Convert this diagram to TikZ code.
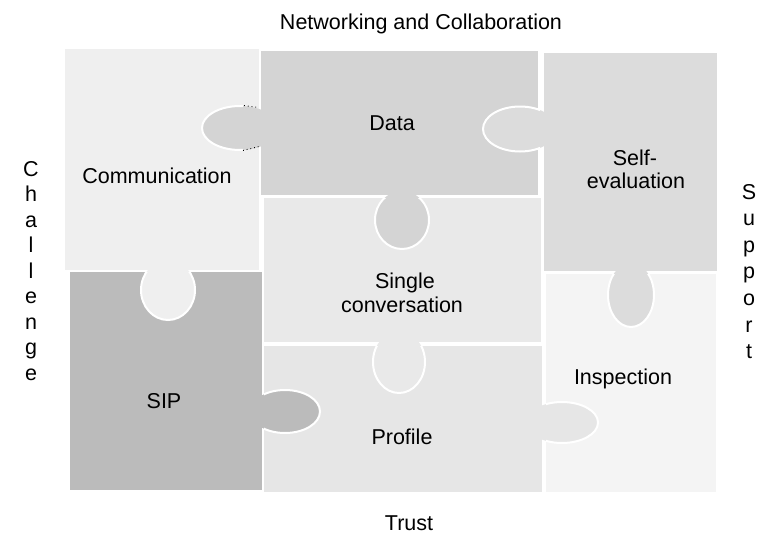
\documentclass[tikz,border=0pt]{standalone}
\usepackage{fontspec}
\setmainfont{Liberation Sans}
\definecolor{commc}{HTML}{EFEFEF}
\definecolor{datac}{HTML}{D4D4D4}
\definecolor{selfc}{HTML}{DCDCDC}
\definecolor{singc}{HTML}{E9E9E9}
\definecolor{sipc}{HTML}{BBBBBB}
\definecolor{profc}{HTML}{E6E6E6}
\definecolor{inspc}{HTML}{F4F4F4}
\tikzset{
  tabline/.style={draw=white, line width=2pt},
  lbl/.style={font=\fontsize{21.5}{25}\selectfont, inner sep=0pt, anchor=base, text=black},
  dotmark/.style={draw=black, dash pattern=on 0.8pt off 3pt, line width=0.9pt}
}
\begin{document}
\begin{tikzpicture}[x=1pt,y=-1pt]
\useasboundingbox (0,0) rectangle (779,554);
\fill[white] (0,0) rectangle (779,554);
% pieces
\fill[commc] (65,49) rectangle (259,270);
\fill[datac] (261,51) rectangle (538,195);
\fill[selfc] (544,53) rectangle (717,271);
\fill[singc] (264,198) rectangle (541,342);
\fill[sipc]  (70,272) rectangle (262,490);
\fill[profc] (264,346) rectangle (542,492);
\fill[inspc] (546,274) rectangle (716,492);
% tab: Data -> Communication
\fill[datac] (240,128) ellipse [x radius=38pt, y radius=22pt];
\begin{scope}\clip (190,90) rectangle (243,170);
\draw[tabline] (240,128) ellipse [x radius=38pt, y radius=22pt];\end{scope}
\draw[dotmark] (244,105.5) -- (259,107.5);
\draw[dotmark] (243,150.5) -- (259,146.5);
% tab: Self-evaluation -> Data
\fill[selfc] (520,129) ellipse [x radius=37pt, y radius=22.5pt];
\begin{scope}\clip (470,90) rectangle (540,170);
\draw[tabline] (520,129) ellipse [x radius=37pt, y radius=22.5pt];\end{scope}
% tab: Data -> Single conversation
\fill[datac] (402,220) ellipse [x radius=27pt, y radius=29pt];
\begin{scope}\clip (360,198) rectangle (440,260);
\draw[tabline] (402,220) ellipse [x radius=27pt, y radius=29pt];\end{scope}
% tab: Communication -> SIP
\fill[commc] (168,290) ellipse [x radius=27pt, y radius=30pt];
\begin{scope}\clip (130,272) rectangle (210,330);
\draw[tabline] (168,290) ellipse [x radius=27pt, y radius=30pt];\end{scope}
% tab: Self-evaluation -> Inspection
\fill[selfc] (631,295) ellipse [x radius=23pt, y radius=32pt];
\begin{scope}\clip (600,274) rectangle (665,335);
\draw[tabline] (631,295) ellipse [x radius=23pt, y radius=32pt];\end{scope}
% tab: Single conversation -> Profile
\fill[singc] (399,362) ellipse [x radius=26pt, y radius=31pt];
\begin{scope}\clip (360,346) rectangle (440,400);
\draw[tabline] (399,362) ellipse [x radius=26pt, y radius=31pt];\end{scope}
% tab: SIP -> Profile
\fill[sipc] (285,411.5) ellipse [x radius=35pt, y radius=21.5pt];
\begin{scope}\clip (264,380) rectangle (330,445);
\draw[tabline] (285,411.5) ellipse [x radius=35pt, y radius=21.5pt];\end{scope}
% tab: Profile -> Inspection
\fill[profc] (562,422.5) ellipse [x radius=36pt, y radius=20.5pt];
\begin{scope}\clip (546,395) rectangle (610,450);
\draw[tabline] (562,422.5) ellipse [x radius=36pt, y radius=20.5pt];\end{scope}
% labels
\node[lbl] (title) at (421,29) {Networking and Collaboration};
\node[lbl] (trust) at (409,530) {Trust};
\node[lbl] (comm) at (157,183) {Communication};
\node[lbl] (data) at (392,130) {Data};
\node[lbl] (self1) at (635,165) {Self-};
\node[lbl] (self2) at (636,188) {evaluation};
\node[lbl] (sing1) at (405,288) {Single};
\node[lbl] (sing2) at (402,312) {conversation};
\node[lbl] (sip) at (164,408) {SIP};
\node[lbl] (insp) at (623,384) {Inspection};
\node[lbl] (prof) at (402,444) {Profile};
\foreach \ch [count=\i] in {C,h,a,l,l,e,n,g,e}
  \node[lbl] (chal\i) at (31,{176+25.5*(\i-1)}) {\ch};
\foreach \ch [count=\i] in {S,u,p,p,o,r,t}
  \node[lbl] (supp\i) at (749,{199+26.6*(\i-1)}) {\ch};
\end{tikzpicture}
\end{document}
